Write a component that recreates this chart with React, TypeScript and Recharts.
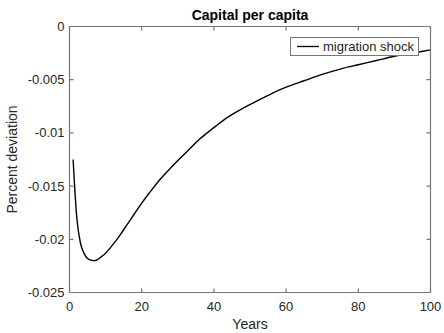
import { LineChart, Line, XAxis, YAxis, Legend, Label } from 'recharts';

// years since the shock and capital per capita (percent deviation)
const years = [1, 2, 3, 4, 5, 6, 7, 8, 9, 10, 12, 14, 16, 18, 20, 22, 25, 28, 30, 33, 36, 40, 44, 48, 52, 56, 60, 65, 70, 75, 80, 85, 90, 95, 100];
const capital = [
  -0.0125, -0.0179, -0.0203, -0.0213, -0.0218, -0.02195, -0.0220, -0.02185, -0.0216, -0.0213,
  -0.0205, -0.0196, -0.0186, -0.0176, -0.0166, -0.0157, -0.0144, -0.0133, -0.0126, -0.0116,
  -0.0106, -0.0095, -0.0085, -0.0077, -0.0070, -0.0063, -0.0057, -0.0051, -0.0045, -0.0040,
  -0.0036, -0.0032, -0.0028, -0.0025, -0.0022,
];
const xTicks = [0, 20, 40, 60, 80, 100];
const yTicks = [0, -0.005, -0.01, -0.015, -0.02, -0.025];
const yTickLabels = ['0', '-0.005', '-0.01', '-0.015', '-0.02', '-0.025'];
const seriesName = 'migration shock';
const title = 'Capital per capita';
const xTitle = 'Years';
const yTitle = 'Percent deviation';

const W = 444;
const H = 333;
const MARGIN = { top: 26.5, right: 13.5, bottom: 0, left: 0 };
const Y_AXIS_W = 69.5;
const X_AXIS_H = 40.5;
const PLOT_LEFT = MARGIN.left + Y_AXIS_W;
const PLOT_RIGHT = W - MARGIN.right;
const PLOT_TOP = MARGIN.top;
const PLOT_BOTTOM = H - MARGIN.bottom - X_AXIS_H;
const TICK_LEN = 4;

const AXIS = '#777777';
const TEXT = '#262626';
const FONT = '"Liberation Sans", Arial, Helvetica, sans-serif';

const data = years.map((y, i) => ({ year: y, value: capital[i] }));

// bottom tick labels, inward tick marks on bottom and top, and the top edge of the box
const renderXTick = (props: any) => {
  const { x, payload } = props;
  return (
    <g key={`xt-${payload.value}`}>
      {payload.value === xTicks[0] && (
        <path d={`M${PLOT_LEFT},${PLOT_TOP}H${PLOT_RIGHT}`} stroke={AXIS} strokeWidth={1.2} fill="none" />
      )}
      <path d={`M${x},${PLOT_BOTTOM}V${PLOT_BOTTOM - TICK_LEN}M${x},${PLOT_TOP}V${PLOT_TOP + TICK_LEN}`} stroke={AXIS} strokeWidth={1.2} fill="none" />
      <text x={x} y={PLOT_BOTTOM + 18} textAnchor="middle" fontSize={13} fontFamily={FONT} fill={TEXT}>
        {payload.value}
      </text>
    </g>
  );
};

// left tick labels, inward tick marks on left and right, and the right edge of the box
const renderYTick = (props: any) => {
  const { y, payload } = props;
  const idx = yTicks.indexOf(payload.value);
  return (
    <g key={`yt-${payload.value}`}>
      {idx === 0 && <path d={`M${PLOT_RIGHT},${PLOT_TOP}V${PLOT_BOTTOM}`} stroke={AXIS} strokeWidth={1.2} fill="none" />}
      <path d={`M${PLOT_LEFT},${y}H${PLOT_LEFT + TICK_LEN}M${PLOT_RIGHT},${y}H${PLOT_RIGHT - TICK_LEN}`} stroke={AXIS} strokeWidth={1.2} fill="none" />
      <text x={PLOT_LEFT - 5} y={y + 4.5} textAnchor="end" fontSize={13} fontFamily={FONT} fill={TEXT}>
        {idx >= 0 ? yTickLabels[idx] : payload.value}
      </text>
    </g>
  );
};

function renderLegend() {
  return (
    <div
      style={{
        boxSizing: 'border-box',
        width: 129,
        height: 19,
        border: `1px solid ${AXIS}`,
        background: '#fff',
        display: 'flex',
        alignItems: 'center',
        fontFamily: FONT,
        fontSize: 13,
        color: TEXT,
      }}
    >
      <svg width={29} height={17} style={{ display: 'block' }}>
        <line x1={6} x2={28} y1={8.5} y2={8.5} stroke="#000" strokeWidth={1.3} />
      </svg>
      <span style={{ marginLeft: 3, whiteSpace: 'nowrap' }}>{seriesName}</span>
    </div>
  );
}

export default function App() {
  return (
    <div style={{ position: 'absolute', left: 0, top: 0, width: W, height: H, background: '#fff' }}>
      <LineChart width={W} height={H} data={data} margin={MARGIN}>
        <XAxis
          dataKey="year"
          type="number"
          domain={[0, 100]}
          ticks={xTicks}
          interval={0}
          height={X_AXIS_H}
          tickSize={0}
          tickLine={false}
          axisLine={{ stroke: AXIS, strokeWidth: 1.2 }}
          tick={renderXTick}
        >
          <Label
            content={() => (
              <g>
                <text x={(PLOT_LEFT + PLOT_RIGHT) / 2} y={329} textAnchor="middle" fontSize={14} fontFamily={FONT} fill={TEXT}>
                  {xTitle}
                </text>
                <text x={(PLOT_LEFT + PLOT_RIGHT) / 2} y={20} textAnchor="middle" fontSize={14} fontWeight="bold" fontFamily={FONT} fill="#000">
                  {title}
                </text>
              </g>
            )}
          />
        </XAxis>
        <YAxis
          type="number"
          domain={[-0.025, 0]}
          ticks={yTicks}
          interval={0}
          width={Y_AXIS_W}
          tickSize={0}
          tickLine={false}
          axisLine={{ stroke: AXIS, strokeWidth: 1.2 }}
          tick={renderYTick}
        >
          <Label
            content={() => {
              const cx = 17;
              const cy = (PLOT_TOP + PLOT_BOTTOM) / 2;
              return (
                <text x={cx} y={cy} transform={`rotate(-90 ${cx} ${cy})`} textAnchor="middle" fontSize={14} fontFamily={FONT} fill={TEXT}>
                  {yTitle}
                </text>
              );
            }}
          />
        </YAxis>
        {/* middle/center keeps the legend from taking space out of the plot area */}
        <Legend
          layout="horizontal"
          verticalAlign="middle"
          align="center"
          content={renderLegend}
          wrapperStyle={{ position: 'absolute', left: 290, top: 37, width: 129, height: 19 }}
        />
        <Line
          dataKey="value"
          name={seriesName}
          type="monotone"
          stroke="#000"
          strokeWidth={1.4}
          dot={false}
          activeDot={false}
          isAnimationActive={false}
        />
      </LineChart>
    </div>
  );
}
